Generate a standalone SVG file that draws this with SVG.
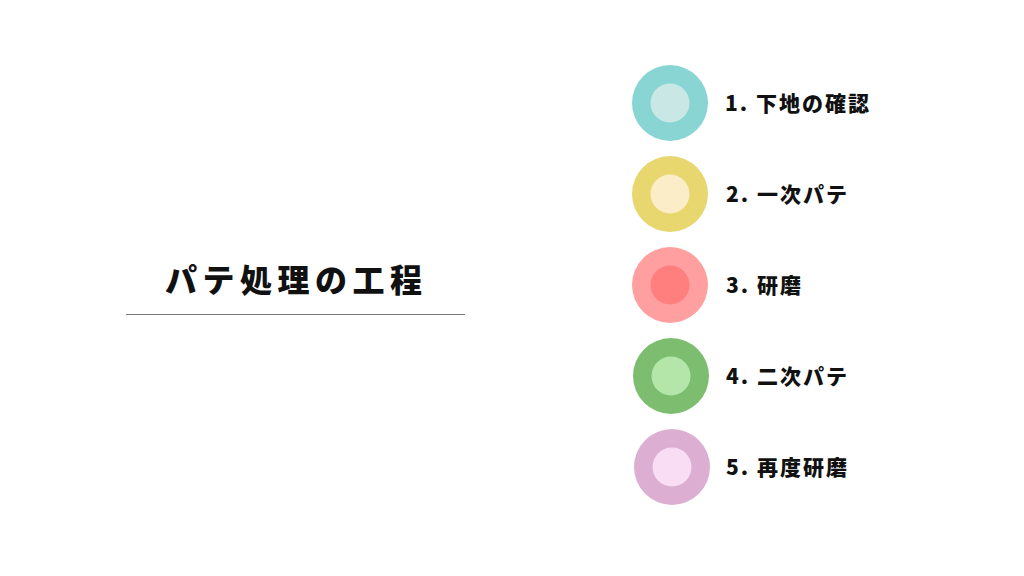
<svg xmlns="http://www.w3.org/2000/svg" width="1024" height="576" viewBox="0 0 1024 576">
<style>
.t{font-family:"Noto Sans CJK JP","Noto Sans",sans-serif;font-weight:900;fill:#111}
.lbl{font-size:21px;letter-spacing:2px}
.title{font-size:32px;letter-spacing:5.5px}
</style>
<rect width="1024" height="576" fill="#fff"/>
<g id="title">
<text class="t title" x="165" y="292">パテ処理の工程</text>
<line x1="126" y1="314.5" x2="465" y2="314.5" stroke="#7a7a7a" stroke-width="1.2"/>
</g>
<g id="step1">
<circle cx="670" cy="103" r="38" fill="#88D5D3"/>
<circle cx="670" cy="103" r="19.5" fill="#C8E7E5"/>
<text class="t lbl" x="725" y="111">1. 下地の確認</text>
</g>
<g id="step2">
<circle cx="670" cy="194" r="38" fill="#E8D66E"/>
<circle cx="670" cy="194" r="19.5" fill="#FBEDC7"/>
<text class="t lbl" x="726" y="202">2. 一次パテ</text>
</g>
<g id="step3">
<circle cx="670" cy="285" r="38" fill="#FF9F9F"/>
<circle cx="670" cy="285" r="19.5" fill="#FF7F7F"/>
<text class="t lbl" x="726" y="293">3. 研磨</text>
</g>
<g id="step4">
<circle cx="671" cy="376" r="38" fill="#7CBD70"/>
<circle cx="671" cy="376" r="19.5" fill="#B3E6A8"/>
<text class="t lbl" x="726" y="384">4. 二次パテ</text>
</g>
<g id="step5">
<circle cx="672" cy="467" r="38" fill="#DCAED1"/>
<circle cx="672" cy="467" r="19.5" fill="#F8DDF4"/>
<text class="t lbl" x="726" y="475">5. 再度研磨</text>
</g>
<g id="connectors"/>
</svg>
